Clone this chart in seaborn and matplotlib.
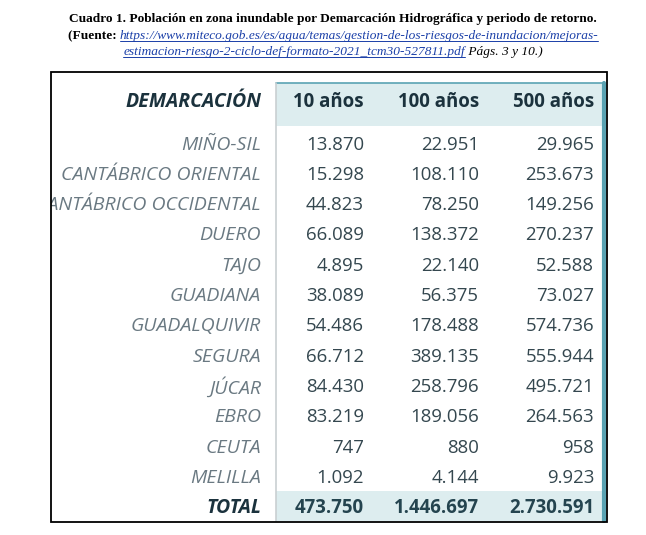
import seaborn as sns
import matplotlib.pyplot as plt
from matplotlib.patches import Rectangle

# Table data
demarcaciones = ["MIÑO-SIL", "CANTÁBRICO ORIENTAL", "CANTÁBRICO OCCIDENTAL", "DUERO",
                 "TAJO", "GUADIANA", "GUADALQUIVIR", "SEGURA", "JÚCAR", "EBRO",
                 "CEUTA", "MELILLA"]
periodos = ["10 años", "100 años", "500 años"]
pob_10 = ["13.870", "15.298", "44.823", "66.089", "4.895", "38.089", "54.486",
          "66.712", "84.430", "83.219", "747", "1.092"]
pob_100 = ["22.951", "108.110", "78.250", "138.372", "22.140", "56.375", "178.488",
           "389.135", "258.796", "189.056", "880", "4.144"]
pob_500 = ["29.965", "253.673", "149.256", "270.237", "52.588", "73.027", "574.736",
           "555.944", "495.721", "264.563", "958", "9.923"]
totales = ["473.750", "1.446.697", "2.730.591"]

sns.set_theme(style="white")
plt.rcParams["font.family"] = ["Open Sans", "DejaVu Sans"]

fig = plt.figure(figsize=(6.46, 5.35), dpi=100)
ax = fig.add_axes([0, 0, 1, 1])
ax.set_xlim(0, 646)
ax.set_ylim(535, 0)
ax.axis("off")

teal_fill = "#ddedef"
teal_line = "#5aa3b3"
label_col = "#6a7982"
num_col = "#34474f"
head_col = "#1b323d"

# frame + bands
frame = Rectangle((51, 72), 556, 450, fill=False, edgecolor="black", lw=1.3, zorder=5)
ax.add_patch(frame)
ax.add_patch(Rectangle((276, 83), 328, 43, facecolor=teal_fill, edgecolor="none", zorder=1))
ax.add_patch(Rectangle((276, 491), 328, 30, facecolor=teal_fill, edgecolor="none", zorder=1))
ax.plot([276, 604], [83, 83], color=teal_line, lw=1.2, zorder=2)
ax.plot([604, 604], [83, 521], color=teal_line, lw=3, zorder=2)
ax.plot([276, 276], [83, 521], color="#c9cfd2", lw=1.2, zorder=2)

col_x = [364, 479, 594]
label_x = 261
head_y = 102
row_y0 = 144.5
step = 30.33
fs = 13.4
fs_lab = 14

ax.text(label_x, head_y, "DEMARCACIÓN", ha="right", va="center", fontsize=fs_lab,
        fontweight="bold", style="italic", color=head_col, zorder=3)
for x, p in zip(col_x, periodos):
    ax.text(x, head_y, p, ha="right", va="center", fontsize=fs,
            fontweight="bold", color=head_col, zorder=3)

for i, name in enumerate(demarcaciones):
    y = row_y0 + i * step
    t = ax.text(label_x, y, name, ha="right", va="center", fontsize=fs_lab,
                style="italic", color=label_col, zorder=3, clip_on=True)
    t.set_clip_path(frame)
    for x, vals in zip(col_x, [pob_10, pob_100, pob_500]):
        ax.text(x, y, vals[i], ha="right", va="center", fontsize=fs,
                color=num_col, zorder=3)

y_tot = row_y0 + len(demarcaciones) * step
ax.text(label_x, y_tot, "TOTAL", ha="right", va="center", fontsize=fs_lab,
        fontweight="bold", style="italic", color=head_col, zorder=3)
for x, v in zip(col_x, totales):
    ax.text(x, y_tot, v, ha="right", va="center", fontsize=fs,
            fontweight="bold", color="#24444f", zorder=3)

# caption above the table
serif = ["Liberation Serif", "DejaVu Serif"]
link_col = "#1a3fa8"
renderer = fig.canvas.get_renderer()


def caption_line(pieces, y, cx=333):
    # pieces: (text, weight, style, color, underline)
    objs = []
    for txt, w, s, c, u in pieces:
        t = ax.text(0, y, txt, ha="left", va="baseline", fontsize=9.6, family=serif,
                    fontweight=w, style=s, color=c)
        objs.append((t, u, c))
    widths = [t.get_window_extent(renderer).width for t, _, _ in objs]
    x = cx - sum(widths) / 2
    for (t, u, c), wd in zip(objs, widths):
        t.set_x(x)
        if u:
            ax.plot([x, x + wd], [y + 1.8, y + 1.8], color=c, lw=0.7)
        x += wd


caption_line([("Cuadro 1. Población en zona inundable por Demarcación Hidrográfica y periodo de retorno.",
               "bold", "normal", "black", False)], 22)
caption_line([("(Fuente: ", "bold", "normal", "black", False),
              ("https://www.miteco.gob.es/es/agua/temas/gestion-de-los-riesgos-de-inundacion/mejoras-",
               "normal", "italic", link_col, True)], 39)
caption_line([("estimacion-riesgo-2-ciclo-def-formato-2021_tcm30-527811.pdf", "normal", "italic", link_col, True),
              (" Págs. 3 y 10.)", "normal", "italic", "black", False)], 55)

fig.savefig("out.png", dpi=100, facecolor="white")
